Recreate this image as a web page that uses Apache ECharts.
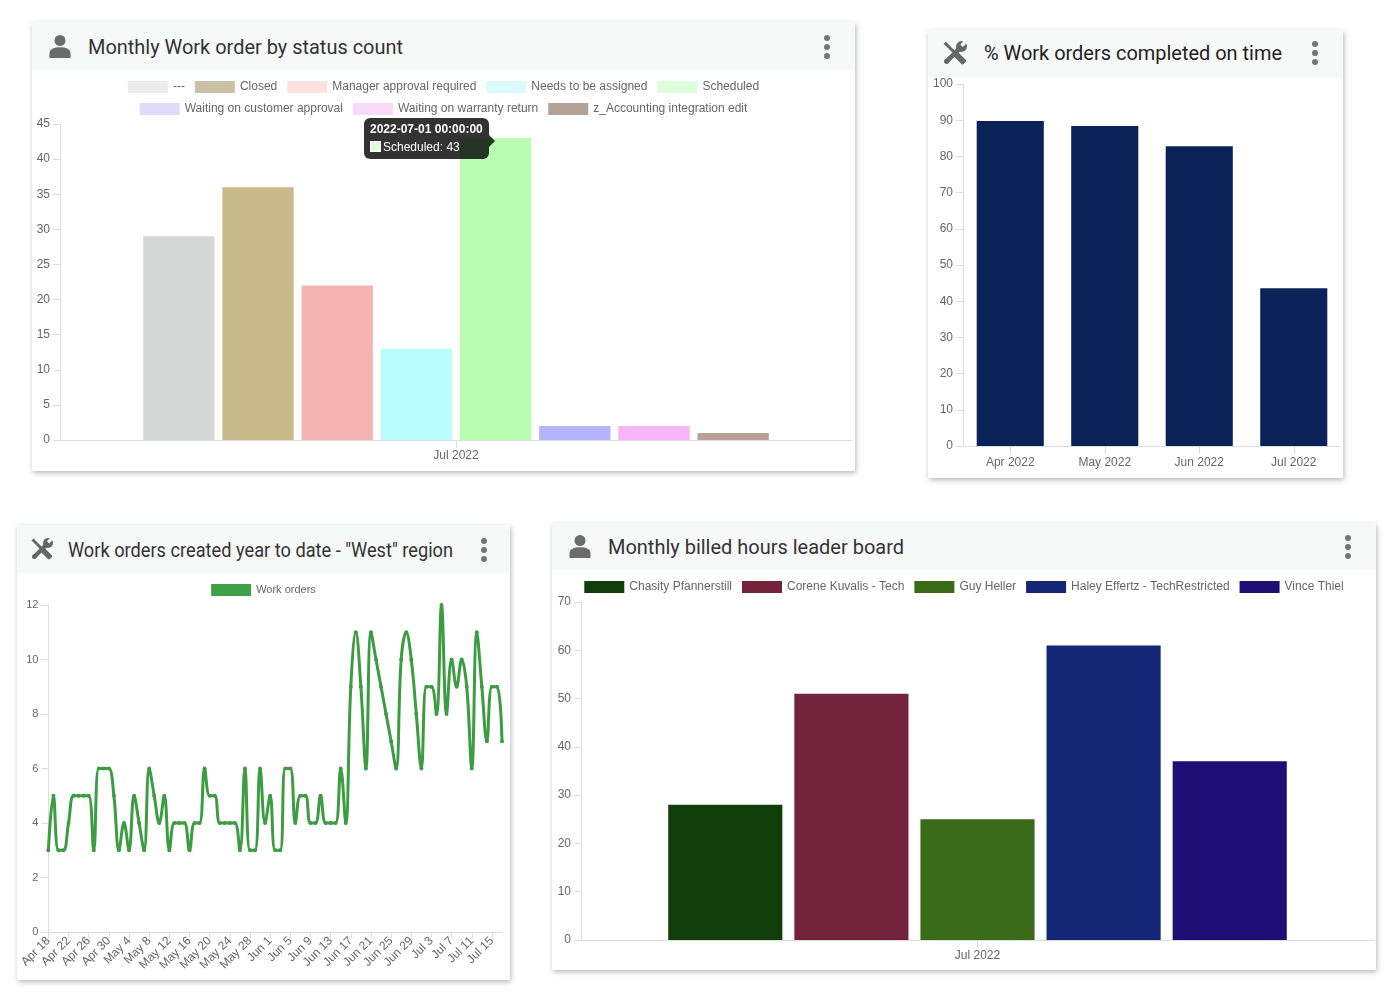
<!DOCTYPE html>
<html>
<head>
<meta charset="utf-8">
<script src="https://cdn.jsdelivr.net/npm/echarts@6/dist/echarts.min.js"></script>
<style>
  html, body { margin:0; padding:0; background:#fff; width:1400px; height:1000px; overflow:hidden; }
  .card { position:absolute; background:#fff; box-shadow: 1px 2px 5px rgba(0,0,0,0.28); }
  .hdr { position:absolute; left:0; top:0; right:0; background:#f7f8f8; }
  .ttl { position:absolute; top:0; font-family: Roboto, "Liberation Sans", Arial, sans-serif; font-size:20px; color:#333; white-space:nowrap; transform-origin: left center; }
  .ic { position:absolute; }
  .kb { position:absolute; }
  .chart { position:absolute; left:0; right:0; }
</style>
</head>
<body>

<div class="card" style="left:32px;top:22px;width:823px;height:449px">
  <div class="hdr" style="height:48px">
    <svg class="ic" style="left:16px;top:12px" width="24" height="24" viewBox="0 0 24 24"><circle cx="12" cy="6.5" r="5.5" fill="#6b6b6b"/><path d="M1.5 24 V19 C1.5 15 6 13.2 12 13.2 S22.5 15 22.5 19 V24 Z" fill="#6b6b6b"/></svg>
    <span class="ttl" data-w="315" style="left:56px;line-height:50px;">Monthly Work order by status count</span>
    <svg class="kb" style="right:24px;top:12px" width="8" height="26" viewBox="0 0 8 26"><circle cx="4" cy="4" r="3" fill="#757575"/><circle cx="4" cy="13" r="3" fill="#757575"/><circle cx="4" cy="22" r="3" fill="#757575"/></svg>
  </div>
  <div class="chart" id="cA" style="top:48px;height:401px"></div>
</div>

<div class="card" style="left:928px;top:30px;width:415px;height:448px">
  <div class="hdr" style="height:47px">
    <svg class="ic" style="left:14px;top:10px" width="26" height="26" viewBox="0 0 24 24"><g fill="#666"><path d="M1.5 3.5 L3.5 1.5 L13 11 L11 13 Z"/><rect x="14" y="11.3" width="5.4" height="11.5" rx="1.3" transform="rotate(-45 16.7 17)"/><path d="M2.8 18.2 L14.8 6.2 L17.8 9.2 L5.8 21.2 Z"/><circle cx="4.3" cy="19.7" r="2.4"/><circle cx="18" cy="6" r="5"/></g><rect x="18.2" y="-1" width="3.2" height="7" fill="#f7f8f8" transform="rotate(45 19.8 3.5)"/></svg>
    <span class="ttl" data-w="298" style="left:56px;line-height:47px;color:#222;">% Work orders completed on time</span>
    <svg class="kb" style="right:24px;top:10px" width="8" height="26" viewBox="0 0 8 26"><circle cx="4" cy="4" r="3" fill="#757575"/><circle cx="4" cy="13" r="3" fill="#757575"/><circle cx="4" cy="22" r="3" fill="#757575"/></svg>
  </div>
  <div class="chart" id="cB" style="top:47px;height:401px"></div>
</div>

<div class="card" style="left:17px;top:525px;width:493px;height:455px">
  <div class="hdr" style="height:48px">
    <svg class="ic" style="left:13px;top:12px" width="24" height="24" viewBox="0 0 24 24"><g fill="#666"><path d="M1.5 3.5 L3.5 1.5 L13 11 L11 13 Z"/><rect x="14" y="11.3" width="5.4" height="11.5" rx="1.3" transform="rotate(-45 16.7 17)"/><path d="M2.8 18.2 L14.8 6.2 L17.8 9.2 L5.8 21.2 Z"/><circle cx="4.3" cy="19.7" r="2.4"/><circle cx="18" cy="6" r="5"/></g><rect x="18.2" y="-1" width="3.2" height="7" fill="#f7f8f8" transform="rotate(45 19.8 3.5)"/></svg>
    <span class="ttl" data-w="385" style="left:51px;line-height:50px;">Work orders created year to date - "West" region</span>
    <svg class="kb" style="right:22px;top:12px" width="8" height="26" viewBox="0 0 8 26"><circle cx="4" cy="4" r="3" fill="#757575"/><circle cx="4" cy="13" r="3" fill="#757575"/><circle cx="4" cy="22" r="3" fill="#757575"/></svg>
  </div>
  <div class="chart" id="cC" style="top:48px;height:407px"></div>
</div>

<div class="card" style="left:552px;top:523px;width:824px;height:447px">
  <div class="hdr" style="height:47px">
    <svg class="ic" style="left:16px;top:11px" width="24" height="24" viewBox="0 0 24 24"><circle cx="12" cy="6.5" r="5.5" fill="#6b6b6b"/><path d="M1.5 24 V19 C1.5 15 6 13.2 12 13.2 S22.5 15 22.5 19 V24 Z" fill="#6b6b6b"/></svg>
    <span class="ttl" data-w="296" style="left:56px;line-height:48px;">Monthly billed hours leader board</span>
    <svg class="kb" style="right:24px;top:11px" width="8" height="26" viewBox="0 0 8 26"><circle cx="4" cy="4" r="3" fill="#757575"/><circle cx="4" cy="13" r="3" fill="#757575"/><circle cx="4" cy="22" r="3" fill="#757575"/></svg>
  </div>
  <div class="chart" id="cD" style="top:47px;height:400px"></div>
</div>

<script>
// ---------------- DATA ----------------
// Chart A: Monthly Work order by status count
const statusMonth = ['Jul 2022'];
const statusPeriodStart = '2022-07-01 00:00:00';
const statusNames = ['---', 'Closed', 'Manager approval required', 'Needs to be assigned', 'Scheduled',
  'Waiting on customer approval', 'Waiting on warranty return', 'z_Accounting integration edit'];
const statusCounts = [29, 36, 22, 13, 43, 2, 2, 1];
const statusTicks = [0, 5, 10, 15, 20, 25, 30, 35, 40, 45];

// Chart B: % Work orders completed on time
const onTimeMonths = ['Apr 2022', 'May 2022', 'Jun 2022', 'Jul 2022'];
const onTimePct = [89.8, 88.4, 82.8, 43.6];
const onTimeTicks = [0, 10, 20, 30, 40, 50, 60, 70, 80, 90, 100];

// Chart C: Work orders created year to date - "West" region
const createdSeriesName = 'Work orders';
const createdDates = [
  'Apr 18','Apr 19','Apr 20','Apr 21','Apr 22','Apr 23','Apr 24','Apr 25','Apr 26','Apr 27','Apr 28','Apr 29','Apr 30',
  'May 1','May 2','May 3','May 4','May 5','May 6','May 7','May 8','May 9','May 10','May 11','May 12','May 13','May 14','May 15',
  'May 16','May 17','May 18','May 19','May 20','May 21','May 22','May 23','May 24','May 25','May 26','May 27','May 28','May 29','May 30','May 31',
  'Jun 1','Jun 2','Jun 3','Jun 4','Jun 5','Jun 6','Jun 7','Jun 8','Jun 9','Jun 10','Jun 11','Jun 12','Jun 13','Jun 14','Jun 15',
  'Jun 16','Jun 17','Jun 18','Jun 19','Jun 20','Jun 21','Jun 22','Jun 23','Jun 24','Jun 25','Jun 26','Jun 27','Jun 28','Jun 29','Jun 30',
  'Jul 1','Jul 2','Jul 3','Jul 4','Jul 5','Jul 6','Jul 7','Jul 8','Jul 9','Jul 10','Jul 11','Jul 12','Jul 13','Jul 14','Jul 15','Jul 16','Jul 17'
];
const createdCounts = [
  3,5,3,3,4,5,5,5,5,3,6,6,6,
  5,3,4,3,5,4,3,6,5,4,5,3,4,4,4,
  3,4,4,6,5,5,4,4,4,4,3,6,3,3,6,4,
  5,3,3,6,6,4,5,5,4,4,5,4,4,4,6,
  4,9,11,9,6,11,10,9,8,7,6,10,11,10,8,
  6,9,9,8,12,8,10,9,10,9,6,11,9,7,9,9,7
];
const createdTicks = [0, 2, 4, 6, 8, 10, 12];

// Chart D: Monthly billed hours leader board
const billedMonth = ['Jul 2022'];
const techNames = ['Chasity Pfannerstill', 'Corene Kuvalis - Tech', 'Guy Heller', 'Haley Effertz - TechRestricted', 'Vince Thiel'];
const techHours = [28, 51, 25, 61, 37];
const billedTicks = [0, 10, 20, 30, 40, 50, 60, 70];

// ---------------- STYLES ----------------
const FONT = '"Liberation Sans", Arial, sans-serif';
const AXIS_COLOR = '#dcdcdc';
const LABEL_COLOR = '#666';
const statusBarColors = ['#d5d6d6', '#c9b98b', '#f5b3b4', '#b9fdfc', '#bbfcb3', '#b4b4fb', '#f8b4f8', '#b9a294'];
const statusLegendColors = ['#ececec', '#cbc1a7', '#fde0e0', '#dcfafa', '#defddb', '#dcdcfa', '#f9dbf9', '#b3a298'];
const techColors = ['#103d0a', '#74233d', '#3a6b18', '#122675', '#1f0e73'];
const lineColor = '#3c9c41';

function valueAxis(ticks, fontSize) {
  return {
    type: 'value', min: ticks[0], max: ticks[ticks.length - 1], interval: ticks[1] - ticks[0],
    splitLine: { show: false },
    axisLine: { show: true, lineStyle: { color: AXIS_COLOR, width: 1 } },
    axisTick: { show: true, length: 7, lineStyle: { color: AXIS_COLOR } },
    axisLabel: { color: LABEL_COLOR, fontSize: fontSize || 12, fontFamily: FONT, margin: 10 }
  };
}
function catAxis(cats, extra) {
  return Object.assign({
    type: 'category', data: cats,
    axisLine: { show: true, lineStyle: { color: AXIS_COLOR, width: 1 } },
    axisTick: { show: true, alignWithLabel: true, length: 8, lineStyle: { color: AXIS_COLOR } },
    axisLabel: { color: LABEL_COLOR, fontSize: 12, fontFamily: FONT, margin: 10 }
  }, extra || {});
}
const legendBase = {
  left: 'center', itemWidth: 40, itemHeight: 12, itemGap: 10, icon: 'rect',
  textStyle: { color: LABEL_COLOR, fontSize: 12, fontFamily: FONT },
  selectedMode: false
};

// ---------------- CHART A ----------------
const chartA = echarts.init(document.getElementById('cA'));
let schedLayout = null;
chartA.setOption({
  animation: false,
  grid: { left: 28, right: 3, top: 54, bottom: 31 },
  legend: [
    Object.assign({}, legendBase, { top: 6, data: statusNames.slice(0, 5).map((n, i) => ({ name: n, itemStyle: { color: statusLegendColors[i] } })) }),
    Object.assign({}, legendBase, { top: 28, data: statusNames.slice(5).map((n, i) => ({ name: n, itemStyle: { color: statusLegendColors[i + 5] } })) })
  ],
  tooltip: {
    trigger: 'item', triggerOn: 'none', alwaysShowContent: true, transitionDuration: 0,
    backgroundColor: 'rgba(0,0,0,0.8)', borderWidth: 0, padding: [4, 6],
    extraCssText: 'border-radius:6px;box-shadow:none;',
    textStyle: { color: '#fff', fontSize: 12, fontFamily: FONT },
    formatter: function (p) {
      return '<div style="position:relative;font-family:' + FONT.replace(/"/g, "'") + ';font-size:12px;color:#fff;">' +
        '<div style="font-weight:bold;line-height:15px;">' + statusPeriodStart + '</div>' +
        '<div style="line-height:15px;margin-top:3px;"><span style="display:inline-block;width:11px;height:11px;box-sizing:border-box;background:' + statusLegendColors[p.seriesIndex] + ';border:1px solid #fff;vertical-align:-1px;margin-right:2px;"></span>' + p.seriesName + ': ' + p.value + '</div>' +
        '<div style="position:absolute;right:-12px;top:13px;width:0;height:0;border-left:6px solid rgba(0,0,0,0.8);border-top:6px solid transparent;border-bottom:6px solid transparent;"></div>' +
        '</div>';
    },
    position: function (pt, params, dom, rect, size) {
      if (schedLayout) {
        const left = Math.min(schedLayout.x, schedLayout.x + schedLayout.width);
        const top = Math.min(schedLayout.y, schedLayout.y + schedLayout.height);
        return [left + 29 - size.contentSize[0], top - 20];
      }
      return [pt[0], pt[1]];
    }
  },
  xAxis: catAxis(statusMonth),
  yAxis: valueAxis(statusTicks),
  series: statusNames.map((n, i) => ({
    name: n, type: 'bar', data: [statusCounts[i]],
    barGap: '11%', barCategoryGap: '21%',
    itemStyle: { color: statusBarColors[i] }
  }))
});
try {
  schedLayout = chartA.getModel().getSeriesByIndex(4).getData().getItemLayout(0);
} catch (e) { schedLayout = null; }
chartA.dispatchAction({ type: 'showTip', seriesIndex: 4, dataIndex: 0 });

// ---------------- CHART B ----------------
const chartB = echarts.init(document.getElementById('cB'));
chartB.setOption({
  animation: false,
  grid: { left: 35, right: 2, top: 7, bottom: 32 },
  xAxis: catAxis(onTimeMonths, {
    axisLabel: { color: LABEL_COLOR, fontSize: 12, fontFamily: FONT, margin: 11 }
  }),
  yAxis: valueAxis(onTimeTicks),
  series: [{
    name: '% on time', type: 'bar', data: onTimePct, barCategoryGap: '29%',
    itemStyle: { color: '#0b2259' }
  }]
});

// ---------------- CHART C ----------------
const chartC = echarts.init(document.getElementById('cC'));
chartC.setOption({
  animation: false,
  grid: { left: 28, right: 8, top: 32, bottom: 48 },
  legend: Object.assign({}, legendBase, {
    top: 6, data: [{ name: createdSeriesName, itemStyle: { color: '#40a046' } }],
    textStyle: { color: LABEL_COLOR, fontSize: 11, fontFamily: FONT }
  }),
  xAxis: catAxis(createdDates, {
    boundaryGap: false,
    axisTick: { show: true, interval: 3, length: 6, lineStyle: { color: AXIS_COLOR } },
    axisLabel: { color: LABEL_COLOR, fontSize: 12, fontFamily: FONT, margin: 7, rotate: 45, interval: 3 }
  }),
  yAxis: valueAxis(createdTicks, 11),
  series: [{
    name: createdSeriesName, type: 'line', data: createdCounts, smooth: 0.4,
    symbol: 'circle', symbolSize: 4, showSymbol: true, showAllSymbol: true,
    lineStyle: { color: lineColor, width: 3 },
    itemStyle: { color: lineColor }
  }]
});

// ---------------- CHART D ----------------
const chartD = echarts.init(document.getElementById('cD'));
chartD.setOption({
  animation: false,
  grid: { left: 29, right: 2, top: 32, bottom: 30 },
  legend: Object.assign({}, legendBase, {
    top: 6, data: techNames.map((n, i) => ({ name: n, itemStyle: { color: techColors[i] } }))
  }),
  xAxis: catAxis(billedMonth),
  yAxis: valueAxis(billedTicks),
  series: techNames.map((n, i) => ({
    name: n, type: 'bar', data: [techHours[i]],
    barGap: '10.5%', barCategoryGap: '22%',
    itemStyle: { color: techColors[i] }
  }))
});

// ---------------- Fit header titles to their measured widths ----------------
function fitTitles() {
  document.querySelectorAll('.ttl').forEach(function (el) {
    el.style.transform = 'none';
    const target = parseFloat(el.getAttribute('data-w'));
    const w = el.getBoundingClientRect().width;
    if (w > 0 && target > 0) el.style.transform = 'scaleX(' + (target / w).toFixed(4) + ')';
  });
}
fitTitles();
if (document.fonts && document.fonts.ready) document.fonts.ready.then(fitTitles);
</script>
</body>
</html>
